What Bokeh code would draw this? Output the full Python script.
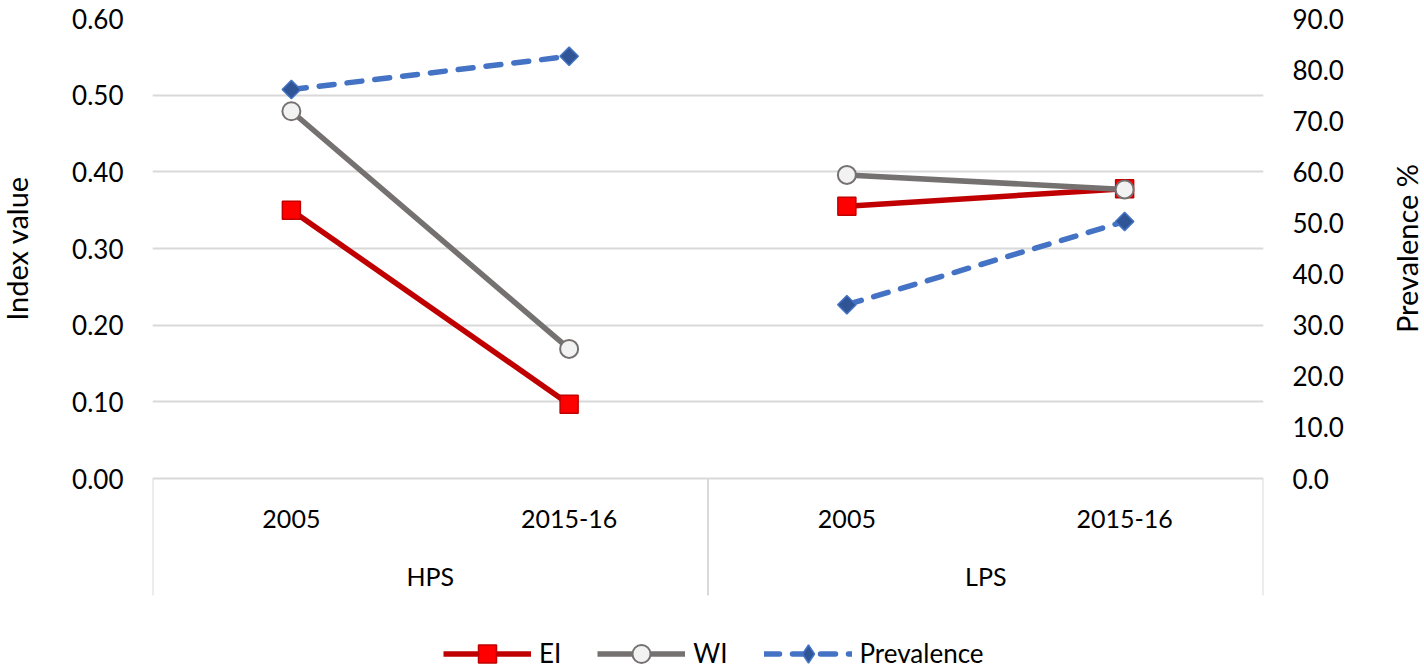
import math
from bokeh.plotting import figure
from bokeh.layouts import row
from bokeh.models import (FactorRange, Range1d, LinearAxis, FixedTicker,
                          NumeralTickFormatter, Legend, LegendItem)
from bokeh.core.properties import value
from bokeh.embed import file_html
from bokeh.resources import INLINE

# ---------------- data ----------------
groups = ["HPS", "LPS"]
periods = ["2005", "2015-16"]
ei = [0.350, 0.097, 0.355, 0.378]
wi = [0.479, 0.169, 0.396, 0.377]
prevalence = [76.1, 82.6, 34.0, 50.3]
index_ticks = [0.0, 0.1, 0.2, 0.3, 0.4, 0.5, 0.6]
prevalence_ticks = [0, 10, 20, 30, 40, 50, 60, 70, 80, 90]
series_names = ["EI", "WI", "Prevalence"]
left_title = "Index value"
right_title = "Prevalence %"

factors = [(g, q) for g in groups for q in periods]

# ---------------- layout ----------------
FONT = "Lato"
W, H = 1424, 668
TOP = 18
ZERO = 478                  # canvas row of the zero line
LSTRIP, RSTRIP = 40, 36     # side strips that hold the axis titles
FRAME_L, FRAME_R = 152, 1263
MAIN_W = W - LSTRIP - RSTRIP

idx_max = index_ticks[-1]
prev_max = prevalence_ticks[-1]
span = ZERO - TOP
idx_min = -idx_max * (H - ZERO) / span
prev_min = -prev_max * (H - ZERO) / span
px_per_unit = span / idx_max


def below(px):
    return -px / px_per_unit


xr = FactorRange(factors=factors, group_padding=0, subgroup_padding=0,
                 factor_padding=0, range_padding=0)
yr = Range1d(idx_min, idx_max)

p = figure(width=MAIN_W, height=H, x_range=xr, y_range=yr,
           output_backend="svg", toolbar_location=None, x_axis_location=None,
           min_border_left=FRAME_L - LSTRIP, min_border_right=W - RSTRIP - FRAME_R,
           min_border_top=TOP, min_border_bottom=0, outline_line_color=None,
           background_fill_color="white", border_fill_color="white")
p.extra_y_ranges = {"prev": Range1d(prev_min, prev_max)}


def style_axis(ax, standoff):
    ax.axis_line_color = None
    ax.major_tick_line_color = None
    ax.minor_tick_line_color = None
    ax.major_tick_out = 0
    ax.major_tick_in = 0
    ax.minor_tick_out = 0
    ax.major_label_standoff = standoff
    ax.major_label_text_font = FONT
    ax.major_label_text_font_size = "26px"
    ax.major_label_text_color = "#000000"


yax = p.yaxis[0]
yax.ticker = FixedTicker(ticks=index_ticks)
yax.formatter = NumeralTickFormatter(format="0.00")
style_axis(yax, 29)

rax = LinearAxis(y_range_name="prev", ticker=FixedTicker(ticks=prevalence_ticks),
                 formatter=NumeralTickFormatter(format="0.0"))
style_axis(rax, 29)
p.add_layout(rax, "right")

p.ygrid.ticker = FixedTicker(ticks=index_ticks)
p.ygrid.grid_line_color = "#D9D9D9"
p.ygrid.grid_line_width = 2
p.xgrid.grid_line_color = None

# category box separators (group edges via categorical offsets)
edges = [(g, periods[0], -0.5) for g in groups] + [(groups[-1], periods[-1], 0.5)]
p.segment(x0=edges, x1=edges, y0=[0] * len(edges), y1=[below(117)] * len(edges),
          line_color="#D9D9D9", line_width=2)

# category labels
p.text(x=factors, y=[below(40)] * len(factors), text=[b for a, b in factors],
       text_align="center", text_baseline="middle", text_font=value(FONT),
       text_font_size="25px", text_color="#000000")
p.text(x=groups, y=[below(97)] * len(groups), text=groups,
       text_align="center", text_baseline="middle", text_font=value(FONT),
       text_font_size="25px", text_color="#000000")


def split(vals):
    xs, ys = [], []
    n = len(periods)
    for i, g in enumerate(groups):
        xs.append(factors[i * n:(i + 1) * n])
        ys.append(vals[i * n:(i + 1) * n])
    return xs, ys


# EI
xs, ys = split(ei)
ei_line = p.multi_line(xs=xs, ys=ys, line_color="#C00000", line_width=5.5)
ei_pts = p.scatter(x=factors, y=ei, marker="square", size=18,
                   fill_color="#FF0000", line_color="#C00000", line_width=1.5)
# WI
xs, ys = split(wi)
wi_line = p.multi_line(xs=xs, ys=ys, line_color="#767171", line_width=5.5)
wi_pts = p.scatter(x=factors, y=wi, marker="circle", size=18,
                   fill_color="#F2F2F2", line_color="#767171", line_width=2)
# Prevalence
xs, ys = split(prevalence)
pr_line = p.multi_line(xs=xs, ys=ys, line_color="#4472C4", line_width=5.5,
                       line_dash="15 13", line_cap="round", y_range_name="prev")
pr_key = p.scatter(x=factors, y=prevalence, marker="diamond", size=16,
                   fill_color="#2F5597", line_color="#4472C4", line_width=1.5,
                   y_range_name="prev")
pr_pts = p.scatter(x=factors, y=prevalence, marker="square", angle=math.pi / 4, size=13,
                   fill_color="#2F5597", line_color="#4472C4", line_width=1.5,
                   y_range_name="prev")

legend = Legend(items=[LegendItem(label=series_names[0], renderers=[ei_line, ei_pts]),
                       LegendItem(label=series_names[1], renderers=[wi_line, wi_pts]),
                       LegendItem(label=series_names[2], renderers=[pr_line, pr_key])],
                orientation="horizontal", location=(291 + 152 - FRAME_L, -7.5),
                glyph_width=88, glyph_height=45, label_standoff=8, spacing=36,
                padding=0, margin=0, border_line_color=None, background_fill_alpha=0,
                label_text_font=FONT, label_text_font_size="26px",
                label_text_line_height=1.0, label_text_color="#000000")
p.add_layout(legend)

mid = (index_ticks[0] + index_ticks[-1]) / 2


def title_strip(width, title, xpos):
    s = figure(width=width, height=H, x_range=Range1d(0, width), y_range=yr,
               output_backend="svg", toolbar_location=None, x_axis_location=None,
               y_axis_location=None, min_border_left=0, min_border_right=0,
               min_border_top=TOP, min_border_bottom=0, outline_line_color=None,
               background_fill_color="white", border_fill_color="white")
    s.grid.visible = False
    s.text(x=[xpos], y=[mid], text=[title], angle=math.pi / 2,
           text_align="center", text_baseline="middle", text_font=value(FONT),
           text_font_size="29px", text_line_height=1.0, text_color="#000000")
    return s


lt = title_strip(LSTRIP, left_title, 16)
rt = title_strip(RSTRIP, right_title, 18)

layout = row(lt, p, rt, spacing=0)
open("out.html", "w").write(file_html(layout, INLINE))
